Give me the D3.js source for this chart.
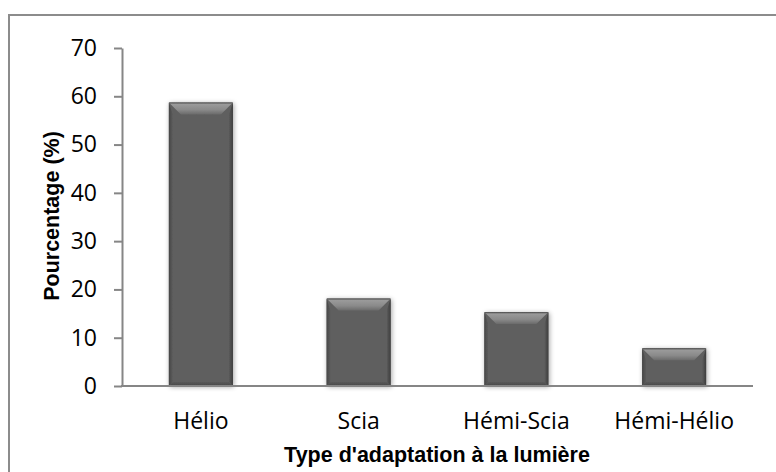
<!DOCTYPE html>
<html><head><meta charset="utf-8">
<script src="https://cdn.jsdelivr.net/npm/d3@7"></script>
<style>body{margin:0;background:#fff}svg{display:block}</style>
</head><body>
<svg id="c" width="776" height="472"></svg>
<script>
const categories = ["Hélio", "Scia", "Hémi-Scia", "Hémi-Hélio"];
const values = [58.7, 18.1, 15.3, 7.8];
const yTicks = [0, 10, 20, 30, 40, 50, 60, 70];
const yTitle = "Pourcentage (%)";
const xTitle = "Type d'adaptation à la lumière";

const svg = d3.select("#c");
const m = {l: 122, r: 753, t: 48, b: 386};
const x = d3.scaleBand().domain(categories).range([m.l, m.r]).paddingInner(0.594).paddingOuter(0.297);
const y = d3.scaleLinear().domain([0, 70]).range([m.b, m.t]);

const defs = svg.append("defs");
const f = defs.append("filter").attr("id","sh").attr("x","-20%").attr("y","-20%").attr("width","140%").attr("height","140%");
f.append("feGaussianBlur").attr("in","SourceAlpha").attr("stdDeviation",2.5).attr("result","b");
f.append("feOffset").attr("dx",1).attr("dy",1).attr("result","o");
f.append("feComponentTransfer").append("feFuncA").attr("type","linear").attr("slope",0.35);
const fm = f.append("feMerge"); fm.append("feMergeNode"); fm.append("feMergeNode").attr("in","SourceGraphic");

function lg(id, x1,y1,x2,y2, stops){
  const g = defs.append("linearGradient").attr("id",id).attr("x1",x1).attr("y1",y1).attr("x2",x2).attr("y2",y2);
  stops.forEach(s=>g.append("stop").attr("offset",s[0]).attr("stop-color",s[1]));
}
lg("gt",0,0,0,1,[[0,"#4a4a4a"],[0.15,"#9a9a9a"],[0.6,"#8a8a8a"],[1,"#6a6a6a"]]);
lg("gl",0,0,1,0,[[0,"#464646"],[1,"#5c5c5c"]]);
lg("gr",0,0,1,0,[[0,"#5c5c5c"],[1,"#3e3e3e"]]);
lg("gb",0,0,0,1,[[0,"#5a5a5a"],[1,"#484848"]]);

// outer border
svg.append("rect").attr("x",9).attr("y",15).attr("width",800).attr("height",500)
  .attr("fill","none").attr("stroke","#8c8c8c").attr("stroke-width",2);

const bw = x.bandwidth();
const bev = 12;
const bars = svg.append("g").selectAll("g").data(categories).join("g").attr("filter","url(#sh)");
bars.append("rect").attr("x",d=>x(d)).attr("y",(d,i)=>y(values[i])).attr("width",bw)
  .attr("height",(d,i)=>y(0)-y(values[i])).attr("fill","#5f5f5f");
bars.each(function(d,i){
  const g = d3.select(this);
  const x0 = x(d), x1 = x(d)+bw, y0 = y(values[i]), y1 = y(0);
  const b = Math.min(bev, (y1-y0)/2);
  const sb = 4;
  g.append("polygon").attr("points",[[x0,y0],[x1,y0],[x1-b,y0+b],[x0+b,y0+b]].join(" ")).attr("fill","url(#gt)");
  g.append("polygon").attr("points",[[x0,y0],[x0+sb,y0+b],[x0+sb,y1-sb],[x0,y1]].join(" ")).attr("fill","url(#gl)");
  g.append("polygon").attr("points",[[x1,y0],[x1-sb,y0+b],[x1-sb,y1-sb],[x1,y1]].join(" ")).attr("fill","url(#gr)");
  g.append("polygon").attr("points",[[x0,y1],[x0+sb,y1-sb],[x1-sb,y1-sb],[x1,y1]].join(" ")).attr("fill","url(#gb)");
});

// y axis
const ya = svg.append("g").attr("transform",`translate(${m.l},0)`)
  .call(d3.axisLeft(y).tickValues(yTicks).tickSize(8).tickPadding(17).tickSizeOuter(0));
ya.select(".domain").attr("stroke","#868686").attr("stroke-width",2);
ya.selectAll(".tick line").attr("stroke","#868686").attr("stroke-width",2);
ya.selectAll(".tick text").attr("fill","#000").style("font-family","'Open Sans', sans-serif").style("font-size","23px");

// x axis
const xa = svg.append("g").attr("transform",`translate(0,${m.b})`)
  .call(d3.axisBottom(x).tickSize(0).tickPadding(27).tickSizeOuter(0));
xa.select(".domain").attr("stroke","#868686").attr("stroke-width",2).attr("d",`M${m.l-1},0H${m.r}`);
xa.selectAll(".tick text").attr("fill","#000").style("font-family","'Open Sans', sans-serif").style("font-size","23px");

svg.append("text").attr("transform","translate(59,216) rotate(-90)").attr("text-anchor","middle")
  .style("font-family","'Liberation Sans', Arial, sans-serif").style("font-weight","bold").style("font-size","21.5px").text(yTitle);
svg.append("text").attr("x",437).attr("y",462).attr("text-anchor","middle")
  .style("font-family","'Liberation Sans', Arial, sans-serif").style("font-weight","bold").style("font-size","21.5px").text(xTitle);
</script>
</body></html>
